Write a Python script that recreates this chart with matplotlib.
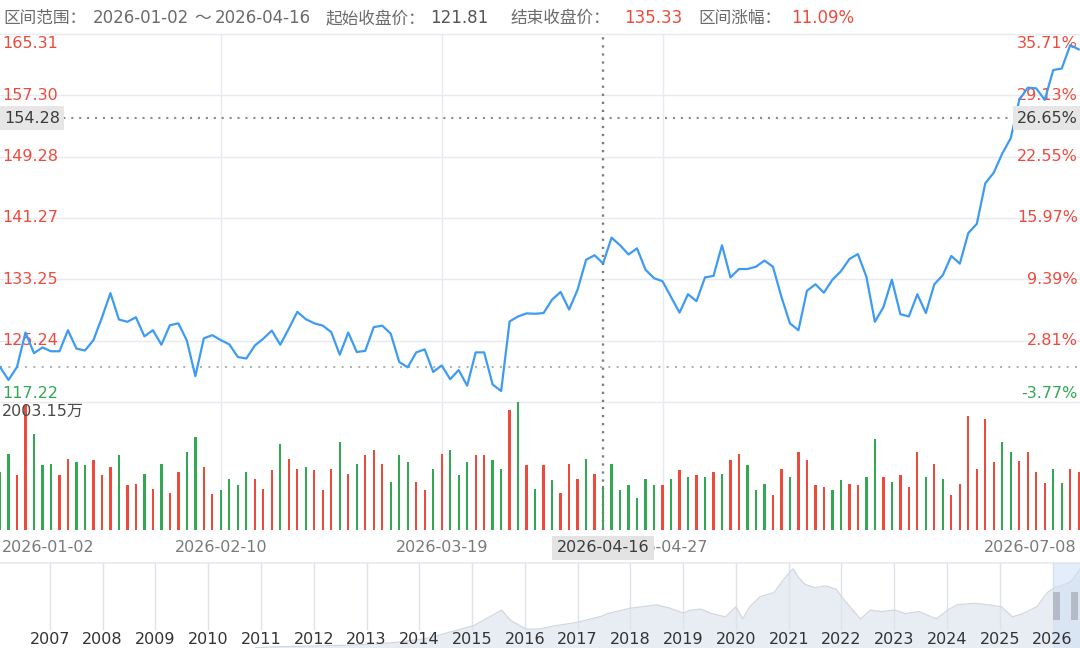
import math
import matplotlib
matplotlib.use("Agg")
import matplotlib.pyplot as plt
import numpy as np
import pandas as pd
from matplotlib.transforms import blended_transform_factory
from matplotlib.patches import Rectangle

plt.rcParams['font.family'] = ['DejaVu Sans', 'Noto Sans CJK SC']
plt.rcParams['lines.scale_dashes'] = False

# ---------------- data ----------------
holidays = ['2026-01-19', '2026-02-16', '2026-04-03', '2026-05-25', '2026-06-19', '2026-07-03']
dates = [d for d in pd.bdate_range('2026-01-02', '2026-07-08') if d.strftime('%Y-%m-%d') not in holidays]

close = [121.81, 120.10, 121.80, 126.30, 123.60, 124.35, 123.85, 123.85, 126.60, 124.20,
         123.95, 125.30, 128.25, 131.45, 128.00, 127.70, 128.30, 125.80, 126.60, 124.70,
         127.25, 127.50, 125.25, 120.60, 125.55, 125.95, 125.30, 124.75, 123.10, 122.90,
         124.60, 125.50, 126.55, 124.70, 126.80, 129.00, 128.05, 127.50, 127.20, 126.35,
         123.40, 126.30, 123.75, 123.90, 127.00, 127.20, 126.15, 122.45, 121.75, 123.70,
         124.10, 121.15, 122.00, 120.20, 121.40, 119.35, 123.70, 123.70, 119.50, 118.65,
         127.75, 128.40, 128.80, 128.75, 128.85, 130.60, 131.60, 129.30, 131.90, 135.80,
         136.40, 135.33, 138.70, 137.70, 136.50, 137.30, 134.50, 133.40, 133.00, 130.95,
         128.90, 131.30, 130.40, 133.50, 133.70, 137.70, 133.50, 134.60, 134.60, 134.90,
         135.70, 134.90, 130.95, 127.50, 126.60, 131.75, 132.60, 131.50, 133.20, 134.30,
         135.90, 136.55, 133.60, 127.70, 129.60, 133.20, 128.70, 128.40, 131.30, 128.85,
         132.60, 133.80, 136.30, 135.30, 139.30, 140.50, 145.80, 147.20, 149.70, 151.70,
         156.70, 158.30, 158.20, 156.70, 160.60, 160.80, 163.85, 163.30]

volume = [908, 1194, 856, 1962, 1510, 1012, 1038, 856, 1116, 1064,
          1012, 1090, 856, 986, 1168, 701, 727, 882, 649, 1038,
          586, 908, 1220, 1453, 986, 561, 623, 804, 701, 908,
          804, 649, 934, 1349, 1116, 960, 986, 934, 623, 960,
          1375, 882, 1038, 1168, 1246, 1038, 753, 1168, 1064, 753,
          623, 960, 1194, 1246, 856, 1064, 1168, 1168, 1090, 960,
          1874, 2003.15, 1012, 649, 1012, 779, 586, 1038, 804, 1116,
          882, 690, 1038, 623, 701, 493, 804, 701, 701, 804,
          934, 830, 856, 830, 908, 882, 1090, 1194, 1012, 623,
          727, 545, 960, 830, 1220, 1090, 701, 675, 623, 779,
          727, 701, 830, 1427, 830, 753, 856, 675, 1220, 830,
          1038, 804, 545, 727, 1790, 950, 1730, 1060, 1370, 1215,
          1080, 1215, 900, 740, 955, 740, 955, 900]

vol_dir = list("ggrrgggrrggrrrgrrgrgrrggrrggggrrrgrrgrrrgrgrrrgggrrgrgggrrggrgrgrgrrrgrgggggggrgrgrgrgrrgggrrgrrrrggrrggrgrrrgrgrrrrrrggrrrr")

price_ticks = [117.22, 125.24, 133.25, 141.27, 149.28, 157.30, 165.31]
vol_max = 2003.15

range_start = '2026-01-02'
range_end = '2026-04-16'
start_close = 121.81
end_close = 135.33
cross_price = 154.28

label_dates = ['2026-01-02', '2026-02-10', '2026-03-19', '2026-04-27', '2026-07-08']
grid_dates = ['2026-02-10', '2026-03-19', '2026-04-27']

nav_years = [2010.9, 2011.3, 2012.0, 2012.6, 2013.2, 2013.6, 2014.0, 2014.22, 2014.55, 2015.03,
             2015.33, 2015.56, 2015.73, 2016.02, 2016.26, 2016.59, 2017.0, 2017.44, 2017.57, 2018.0,
             2018.23, 2018.49, 2018.75, 2019.0, 2019.14, 2019.34, 2019.54, 2019.8, 2020.0, 2020.13,
             2020.26, 2020.46, 2020.72, 2020.91, 2021.08, 2021.18, 2021.31, 2021.5, 2021.7, 2021.9,
             2022.02, 2022.16, 2022.36, 2022.55, 2022.75, 2023.01, 2023.21, 2023.47, 2023.8, 2024.01,
             2024.19, 2024.52, 2024.78, 2025.03, 2025.24, 2025.44, 2025.7, 2025.9, 2026.03, 2026.23,
             2026.36, 2026.52]
nav_vals = [0.5, 2.8, 4, 5.7, 8.5, 12, 17.8, 21.3, 32, 46,
            64, 78, 57, 39, 39, 46, 53, 65, 71, 82,
            85, 89, 82, 72, 78, 80, 71, 64, 85, 60,
            85, 106, 114, 142, 163, 146, 131, 124, 128, 121,
            103, 85, 60, 78, 75, 78, 71, 75, 60, 78,
            89, 92, 89, 85, 64, 71, 85, 114, 124, 131,
            138, 163]
nav_year_labels = list(range(2007, 2027))
nav_sel = (2026.0, 2026.52)

# ---------------- styles ----------------
RED = '#ec4b3c'
GREEN = '#33a852'
BLUE = '#3e9bf4'
GRID = '#e7eaf1'
W, H = 1080, 648
FS = 11.5

def pct_label(p):
    v = math.floor((p / start_close - 1) * 10000) / 100
    return f"{v:.2f}%"

def fy(y):
    return 1 - y / H

date_str = [d.strftime('%Y-%m-%d') for d in dates]
x = np.arange(len(close))
XMAX = len(close) - 1 + 0.15

fig = plt.figure(figsize=(10.8, 6.48), dpi=100)
ax_p = fig.add_axes([0, fy(402), 1, 368 / H])
ax_v = fig.add_axes([0, fy(530), 1, 128 / H])
ax_n = fig.add_axes([0, 0, 1, 85 / H])
for ax in (ax_p, ax_v, ax_n):
    ax.set_axis_off()

# ---------------- price panel ----------------
ax_p.set_xlim(0, XMAX)
ax_p.set_ylim(price_ticks[0], price_ticks[-1])
for v in price_ticks:
    ax_p.axhline(v, color=GRID, lw=1.0, zorder=0, clip_on=False)
grid_idx = [date_str.index(d) for d in grid_dates]
for gi in grid_idx:
    ax_p.axvline(gi, color=GRID, lw=1.0, zorder=0)
    ax_v.axvline(gi, color=GRID, lw=1.0, zorder=0)

ax_p.axhline(start_close, color='#a8a8a8', lw=1.3, ls=(0, (1.4, 4.6)), zorder=1)
ax_p.plot(x, close, color=BLUE, lw=1.6, zorder=4, solid_joinstyle='round')

bl = blended_transform_factory(ax_p.transAxes, ax_p.transData)
for i, v in enumerate(price_ticks):
    col = RED if v >= start_close else GREEN
    if i == len(price_ticks) - 1:
        va, dy = 'top', -2
    elif i == 0:
        va, dy = 'bottom', 1
    else:
        va, dy = 'center', 0
    ax_p.annotate(f"{v:.2f}", xy=(0, v), xycoords=bl, xytext=(2, dy), textcoords='offset pixels',
                  ha='left', va=va, color=col, fontsize=FS, zorder=3)
    ax_p.annotate(pct_label(v), xy=(1, v), xycoords=bl, xytext=(-2, dy), textcoords='offset pixels',
                  ha='right', va=va, color=col, fontsize=FS, zorder=3)

# crosshair
cross_idx = date_str.index(range_end)
ax_p.axhline(cross_price, color='#8a8a8a', lw=1.5, ls=(0, (1.5, 4.2)), zorder=5)
ax_p.axvline(cross_idx, color='#7c7c7c', lw=1.7, ls=(0, (1.6, 4.2)), zorder=5, clip_on=False)
ax_v.axvline(cross_idx, color='#7c7c7c', lw=1.7, ls=(0, (1.6, 4.2)), zorder=5)
ax_p.annotate(f"{cross_price:.2f}", xy=(0, cross_price), xycoords=bl, xytext=(4, 0),
              textcoords='offset pixels', ha='left', va='center', color='#3c3c3c', fontsize=FS, zorder=6,
              bbox=dict(boxstyle='square,pad=0.28', fc='#e6e6e6', ec='none'))
ax_p.annotate(pct_label(cross_price), xy=(1, cross_price), xycoords=bl, xytext=(-2, 0),
              textcoords='offset pixels', ha='right', va='center', color='#3c3c3c', fontsize=FS, zorder=6,
              bbox=dict(boxstyle='square,pad=0.28', fc='#e6e6e6', ec='none'))

# ---------------- volume panel ----------------
ax_v.set_xlim(0, XMAX)
ax_v.set_ylim(0, vol_max)
colors = [RED if c == 'r' else GREEN for c in vol_dir]
ax_v.bar(x, volume, width=0.27, color=colors, zorder=2)
ax_v.annotate(f"{vol_max:.2f}万", xy=(0, 1), xycoords='axes fraction', xytext=(2, -9),
              textcoords='offset pixels', ha='left', va='center', color='#4a4a4a', fontsize=FS, zorder=6)

for d in label_dates:
    i = date_str.index(d)
    ha = 'left' if i == 0 else ('right' if i == len(close) - 1 else 'center')
    dx = 2 if i == 0 else (-2 if i == len(close) - 1 else 0)
    ax_v.annotate(d, xy=(i, 0), xycoords=('data', 'axes fraction'), xytext=(dx, -18),
                  textcoords='offset pixels', ha=ha, va='center', color='#7a7a7a', fontsize=FS,
                  annotation_clip=False)
ax_v.annotate(range_end, xy=(cross_idx, 0), xycoords=('data', 'axes fraction'), xytext=(0, -18),
              textcoords='offset pixels', ha='center', va='center', color='#3c3c3c', fontsize=FS,
              annotation_clip=False, zorder=7,
              bbox=dict(boxstyle='square,pad=0.3', fc='#e3e3e3', ec='none'))

# ---------------- navigator ----------------
ax_n.set_xlim(2006.055, 2026.52)
ax_n.set_ylim(0, 175)
ax_n.axhline(175, color=GRID, lw=1.2, clip_on=False, zorder=1)
ax_n.fill_between(nav_years, nav_vals, color='#e8ecf3', zorder=1, lw=0)
ax_n.plot(nav_years, nav_vals, color='#d2d7e0', lw=0.9, zorder=2)
for yr in nav_year_labels:
    ax_n.axvline(yr, ymin=0.22, ymax=1, color='#dfe2e9', lw=1.0, zorder=1.5)
    ax_n.annotate(str(yr), xy=(yr, 0), xycoords=('data', 'axes fraction'), xytext=(0, 9),
                  textcoords='offset pixels', ha='center', va='center', color='#333333', fontsize=FS, zorder=4)
ax_n.axvspan(nav_sel[0], nav_sel[1], color='#cfe0f6', alpha=0.55, zorder=3, lw=0)
bn = blended_transform_factory(ax_n.transData, ax_n.transAxes)
hw = 0.14
ax_n.add_patch(Rectangle((nav_sel[0] + 0.01, 0.33), hw, 0.33, transform=bn, fc='#a9aeb7', alpha=0.75, zorder=5, lw=0))
ax_n.add_patch(Rectangle((nav_sel[1] - hw - 0.03, 0.33), hw, 0.33, transform=bn, fc='#a9aeb7', alpha=0.75, zorder=5, lw=0))

# ---------------- header ----------------
HFS = 12
GRAYT = '#6b6b6b'
header = [
    (3, '区间范围：', GRAYT, 'left'),
    (93, range_start, GRAYT, 'left'),
    (203, '～', GRAYT, 'center'),
    (215, range_end, GRAYT, 'left'),
    (326, '起始收盘价：', GRAYT, 'left'),
    (430, f"{start_close:.2f}", '#555555', 'left'),
    (510, '结束收盘价：', GRAYT, 'left'),
    (624, f"{end_close:.2f}", RED, 'left'),
    (698, '区间涨幅：', GRAYT, 'left'),
    (791, pct_label(end_close), RED, 'left'),
]
for px, s, c, ha in header:
    fig.text(px / W, fy(18), s, ha=ha, va='center', color=c, fontsize=HFS)

fig.savefig('out.png', dpi=100)
